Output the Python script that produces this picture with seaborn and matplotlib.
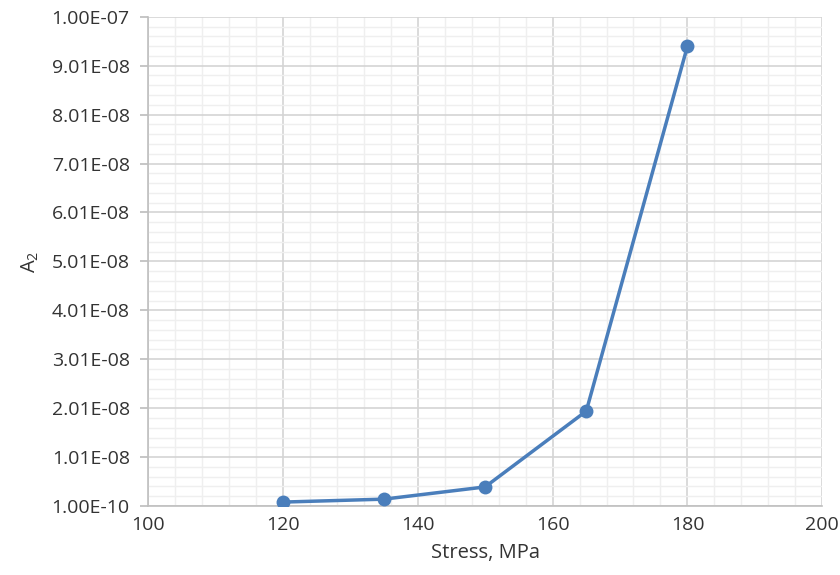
import numpy as np
import pandas as pd
import matplotlib
matplotlib.use("Agg")
import matplotlib.pyplot as plt
import seaborn as sns
from matplotlib.ticker import MultipleLocator, FixedLocator, FuncFormatter

# Data
stress = [120, 135, 150, 165, 180]
a2 = [9.0e-10, 1.5e-9, 4.0e-9, 1.95e-8, 9.41e-8]

y_ticks = [1e-10 + k * 1e-8 for k in range(10)] + [1e-7]

sns.set_theme(style="white")
plt.rcParams['font.family'] = ['Open Sans', 'DejaVu Sans']
plt.rcParams['mathtext.fontset'] = 'custom'
plt.rcParams['mathtext.rm'] = 'Open Sans'
plt.rcParams['mathtext.it'] = 'Open Sans'

df = pd.DataFrame({"stress": stress, "a2": a2})

fig = plt.figure(figsize=(8.4, 5.75), dpi=100)
ax = fig.add_axes([0.176, 0.12, 0.803, 0.85])

sns.lineplot(data=df, x="stress", y="a2", ax=ax, color="#4A7EBB",
             linewidth=2.5, marker="o", markersize=10, markeredgewidth=0, zorder=5)

ax.set_xlim(100, 200)
ax.set_ylim(1e-10, 1e-7)
ax.xaxis.set_major_locator(MultipleLocator(20))
ax.xaxis.set_minor_locator(MultipleLocator(4))
ax.yaxis.set_major_locator(FixedLocator(y_ticks))
ax.yaxis.set_minor_locator(FixedLocator([1e-10 + k * 2e-9 for k in range(50)]))
ax.yaxis.set_major_formatter(FuncFormatter(lambda v, p: f"{v:.2E}"))

ax.grid(which="major", color="#D4D4D4", linewidth=1.2)
ax.grid(which="minor", color="#EFEFEF", linewidth=1.0)
ax.set_axisbelow(True)

for s in ["top", "right"]:
    ax.spines[s].set_visible(False)
for s in ["left", "bottom"]:
    ax.spines[s].set_color("#BFBFBF")
    ax.spines[s].set_linewidth(1.2)

ax.tick_params(axis="y", which="major", length=6, color="#BFBFBF", labelsize=14,
               labelcolor="#333333", left=True, pad=7)
ax.tick_params(axis="x", which="major", length=0, labelsize=14, labelcolor="#333333", pad=7)
ax.tick_params(which="minor", length=0)

ax.set_xlabel("Stress, MPa", fontsize=14.5, color="#333333", labelpad=7)
ax.set_ylabel("A$_{2}$", fontsize=14.5, color="#333333", labelpad=8)

fig.savefig("out.png", dpi=100)
